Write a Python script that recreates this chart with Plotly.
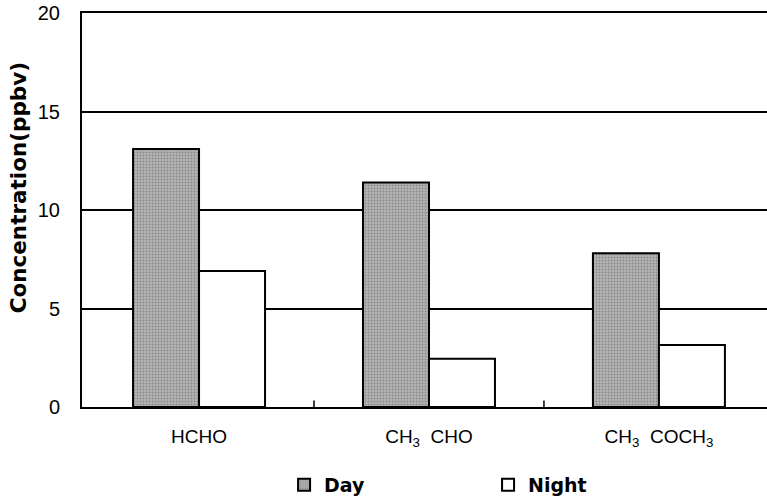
import plotly.graph_objects as go

categories = ["HCHO", "CH<sub>3</sub>  CHO", "CH<sub>3</sub>  COCH<sub>3</sub>"]
day_values = [13.1, 11.4, 7.8]
night_values = [6.9, 2.45, 3.15]
y_ticks = [0, 5, 10, 15, 20]

fig = go.Figure()
fig.add_trace(go.Bar(
    x=categories, y=day_values, name="Day",
    marker=dict(color="#a8a8a8", line=dict(color="black", width=2),
                pattern=dict(shape=".", fgcolor="#5a5a5a", bgcolor="#b4b4b4", size=3, solidity=0.3)),
))
fig.add_trace(go.Bar(
    x=categories, y=night_values, name="Night",
    marker=dict(color="white", line=dict(color="black", width=2)),
))
# small category-boundary tick marks on x axis
fig.add_trace(go.Scatter(x=[0.5, 1.5], y=[0.12, 0.12], mode="markers", showlegend=False,
                         xaxis="x2", hoverinfo="skip",
                         marker=dict(symbol="line-ns", size=6, line=dict(color="black", width=1.5))))

fig.update_layout(
    width=767, height=504,
    margin=dict(l=82, r=0, t=13, b=97, autoexpand=False),
    paper_bgcolor="white", plot_bgcolor="white",
    barmode="group", bargap=0.426, bargroupgap=0,
    font=dict(family="Liberation Sans, Arial, sans-serif", color="black"),
    showlegend=True,
    legend=dict(orientation="h", x=0.295, xanchor="left", y=-0.198, yanchor="middle",
                font=dict(size=19, family="DejaVu Sans, sans-serif", weight="bold"),
                entrywidth=159, itemwidth=30),
    xaxis=dict(range=[-0.509, 2.47], showline=True, linecolor="black", linewidth=2,
               mirror=True, ticks="", tickfont=dict(size=19), ticklabelstandoff=11,
               showgrid=False),
    xaxis2=dict(overlaying="x", range=[-0.509, 2.47], visible=False),
    yaxis=dict(range=[0, 20], tickvals=y_ticks, showgrid=True, gridcolor="black", gridwidth=2,
               showline=True, linecolor="black", linewidth=2, zeroline=False,
               ticks="", tickfont=dict(size=20), ticklabelstandoff=16),
    annotations=[dict(text="<b>Concentration(ppbv)</b>", textangle=-90,
                      xref="paper", yref="paper", x=-0.0934, y=0.555,
                      xanchor="center", yanchor="middle", showarrow=False,
                      font=dict(size=21.5, family="DejaVu Sans, sans-serif"))],
)

fig.write_html("out.html")
